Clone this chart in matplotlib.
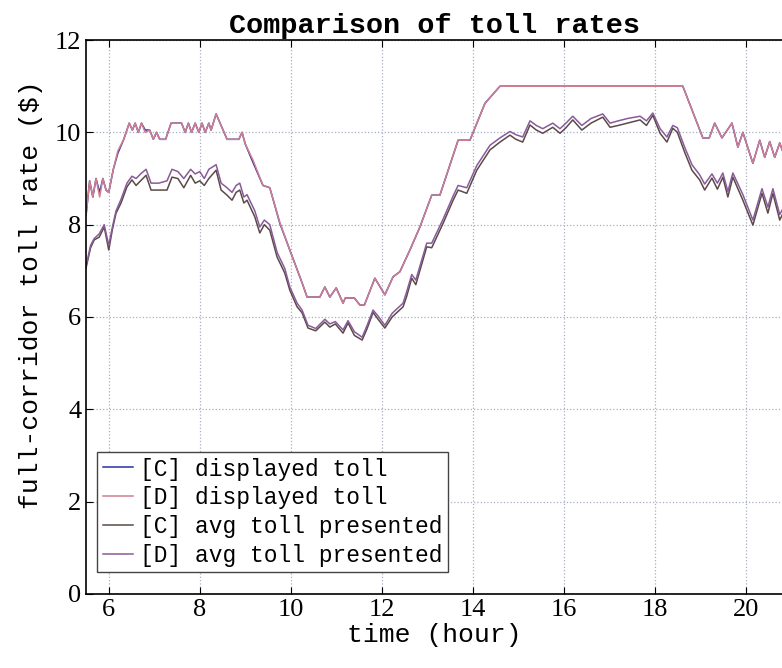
import matplotlib.pyplot as plt

# toll shown on the sign (step changes)
t_disp = [5.5, 5.58, 5.65, 5.72, 5.8, 5.87, 5.94, 6.0, 6.1, 6.2, 6.33, 6.45, 6.52,
          6.58, 6.65, 6.72, 6.8, 6.9, 6.98, 7.05, 7.12, 7.25, 7.37, 7.6, 7.68, 7.75,
          7.82, 7.9, 7.98, 8.05, 8.12, 8.2, 8.25, 8.36, 8.6, 8.86, 8.93, 9.0, 9.17,
          9.39, 9.54, 9.76, 9.98, 10.25, 10.36, 10.64, 10.75, 10.86, 11.0, 11.15,
          11.2, 11.4, 11.52, 11.62, 11.85, 12.07, 12.25, 12.4, 12.62, 12.84, 13.1,
          13.28, 13.68, 13.94, 14.27, 14.6, 18.62, 19.06, 19.2, 19.32, 19.48, 19.7,
          19.83, 19.94, 20.16, 20.31, 20.42, 20.53, 20.64, 20.75, 20.85]
c_disp = [8.2, 8.95, 8.6, 9.0, 8.7, 9.0, 8.75, 8.7, 9.2, 9.55, 9.85, 10.2, 10.05,
          10.2, 10.0, 10.2, 10.05, 10.05, 9.85, 10.0, 9.85, 9.85, 10.2, 10.2, 10.0, 10.2,
          10.0, 10.2, 10.0, 10.2, 10.0, 10.2, 10.05, 10.4, 9.85, 9.85, 10.0, 9.75, 9.35,
          8.85, 8.8, 8.03, 7.45, 6.74, 6.43, 6.43, 6.65, 6.43, 6.63, 6.3,
          6.41, 6.41, 6.26, 6.26, 6.84, 6.48, 6.87, 6.98, 7.45, 7.95, 8.64,
          8.64, 9.83, 9.83, 10.63, 11.0, 11.0, 9.88, 9.88, 10.2, 9.88, 10.2,
          9.68, 10.0, 9.33, 9.83, 9.46, 9.8, 9.46, 9.77, 9.5]
d_disp = [8.2, 8.95, 8.6, 9.0, 8.6, 9.0, 8.75, 8.7, 9.2, 9.6, 9.85, 10.2, 10.05,
          10.2, 10.0, 10.2, 10.0, 10.05, 9.85, 10.0, 9.85, 9.85, 10.2, 10.2, 10.0, 10.2,
          10.0, 10.2, 10.0, 10.2, 10.0, 10.2, 10.05, 10.4, 9.85, 9.85, 10.0, 9.75, 9.4,
          8.85, 8.8, 8.05, 7.45, 6.74, 6.43, 6.43, 6.65, 6.43, 6.63, 6.3,
          6.41, 6.41, 6.26, 6.26, 6.84, 6.48, 6.87, 6.98, 7.45, 7.95, 8.64,
          8.64, 9.83, 9.83, 10.63, 11.0, 11.0, 9.88, 9.88, 10.2, 9.88, 10.2,
          9.68, 10.0, 9.33, 9.83, 9.46, 9.8, 9.46, 9.77, 9.5]

# average toll presented to drivers
t_avg = [5.5, 5.6, 5.68, 5.79, 5.9, 6.0, 6.08, 6.16, 6.27, 6.4, 6.51, 6.6, 6.7, 6.82,
         6.93, 7.1, 7.28, 7.39, 7.52, 7.65, 7.8, 7.9, 8.0, 8.1, 8.2, 8.36, 8.47, 8.6,
         8.71, 8.8, 8.88, 8.97, 9.04, 9.21, 9.32, 9.42, 9.54, 9.7, 9.87, 9.98, 10.14,
         10.25, 10.38, 10.55, 10.75, 10.86, 10.98, 11.15, 11.26, 11.4, 11.57, 11.68,
         11.81, 11.92, 12.07, 12.23, 12.47, 12.55, 12.66, 12.75, 12.99, 13.1, 13.35,
         13.57, 13.68, 13.87, 14.09, 14.38, 14.6, 14.82, 14.95, 15.1, 15.26, 15.4,
         15.54, 15.76, 15.92, 16.05, 16.2, 16.4, 16.6, 16.86, 17.02, 17.2, 17.4,
         17.68, 17.82, 17.96, 18.12, 18.27, 18.4, 18.5, 18.66, 18.82, 18.99, 19.1,
         19.26, 19.38, 19.5, 19.61, 19.72, 19.94, 20.16, 20.36, 20.49, 20.6, 20.75, 20.85]
c_avg = [7.06, 7.5, 7.67, 7.73, 7.95, 7.45, 7.9, 8.25, 8.47, 8.82, 8.97, 8.85, 8.95, 9.07,
         8.75, 8.75, 8.75, 9.03, 9.0, 8.8, 9.07, 8.9, 8.95, 8.85, 9.0, 9.18, 8.75, 8.64,
         8.53, 8.7, 8.75, 8.47, 8.53, 8.17, 7.82, 8.0, 7.88, 7.3, 6.95, 6.58, 6.22,
         6.09, 5.76, 5.7, 5.89, 5.78, 5.85, 5.65, 5.87, 5.6, 5.5, 5.75,
         6.1, 5.95, 5.76, 6.0, 6.22, 6.45, 6.84, 6.7, 7.52, 7.5, 8.03,
         8.53, 8.75, 8.68, 9.18, 9.62, 9.79, 9.94, 9.85, 9.79, 10.16, 10.05,
         9.98, 10.11, 9.98, 10.1, 10.27, 10.05, 10.2, 10.33, 10.11, 10.15, 10.2,
         10.27, 10.15, 10.37, 9.98, 9.79, 10.09, 10.0, 9.57, 9.18, 8.97, 8.75,
         9.01, 8.77, 9.03, 8.6, 9.03, 8.53, 7.99, 8.68, 8.25, 8.68, 8.1, 8.3]
d_avg = [7.1, 7.55, 7.7, 7.8, 8.0, 7.55, 7.95, 8.3, 8.55, 8.9, 9.05, 9.0, 9.1, 9.2,
         8.9, 8.9, 8.95, 9.2, 9.15, 9.0, 9.2, 9.1, 9.15, 9.0, 9.2, 9.3, 8.9, 8.8,
         8.7, 8.85, 8.9, 8.6, 8.65, 8.3, 7.95, 8.1, 8.0, 7.4, 7.05, 6.65, 6.3,
         6.15, 5.82, 5.75, 5.95, 5.85, 5.9, 5.72, 5.92, 5.68, 5.56, 5.82,
         6.15, 6.02, 5.82, 6.08, 6.3, 6.55, 6.92, 6.8, 7.6, 7.6, 8.12,
         8.62, 8.85, 8.8, 9.28, 9.72, 9.88, 10.02, 9.95, 9.9, 10.25, 10.15,
         10.08, 10.2, 10.08, 10.2, 10.35, 10.15, 10.3, 10.4, 10.2, 10.25, 10.3,
         10.35, 10.25, 10.42, 10.08, 9.9, 10.15, 10.1, 9.68, 9.3, 9.08, 8.88,
         9.1, 8.9, 9.12, 8.72, 9.12, 8.65, 8.1, 8.78, 8.38, 8.78, 8.22, 8.4]

labels = ['[C] displayed toll', '[D] displayed toll',
          '[C] avg toll presented', '[D] avg toll presented']
colors = ['#2a2fa0', '#d07f90', '#5a4a48', '#8a5a9a']

x_ticks = [6, 8, 10, 12, 14, 16, 18, 20]
y_ticks = [0, 2, 4, 6, 8, 10, 12]

plt.rcParams['font.family'] = ['Liberation Mono', 'DejaVu Sans Mono']

fig = plt.figure(figsize=(7.82, 6.68), dpi=100)
ax = fig.add_axes([0.110, 0.111, 0.890, 0.829])

series = [(t_disp, c_disp), (t_disp, d_disp), (t_avg, c_avg), (t_avg, d_avg)]
for (t, v), lab, col in zip(series, labels, colors):
    ax.plot(t, v, color=col, lw=1.1, label=lab)

ax.set_xlim(5.5, 20.8)
ax.set_ylim(0, 12)
ax.set_xticks(x_ticks)
ax.set_yticks(y_ticks)
ax.grid(True, linestyle=':', color='#a8aec4', linewidth=0.9)
ax.tick_params(direction='in', top=True, right=False, labelsize=19, length=5)
for lbl in ax.get_xticklabels() + ax.get_yticklabels():
    lbl.set_fontfamily('Liberation Serif')
ax.spines['right'].set_visible(False)
for s in ['left', 'bottom', 'top']:
    ax.spines[s].set_linewidth(1.2)

ax.set_xlabel('time (hour)', fontsize=19, labelpad=2)
ax.set_ylabel('full-corridor toll rate ($)', fontsize=19)
ax.yaxis.set_label_coords(-0.062, 0.54)
ax.set_title('Comparison of toll rates', fontsize=20.5, fontweight='bold', pad=5)

leg = ax.legend(loc='lower left', fontsize=16.5, handlelength=1.3, handletextpad=0.3,
                borderpad=0.25, labelspacing=0.25, fancybox=False, framealpha=1,
                edgecolor='#444444', bbox_to_anchor=(0.0, 0.018))
leg.get_frame().set_linewidth(1.0)

fig.savefig('out.png', dpi=100)
